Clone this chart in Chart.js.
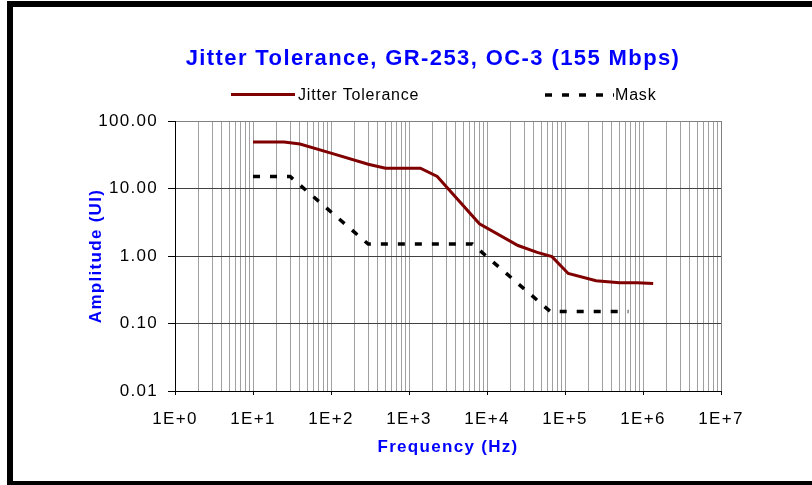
<!DOCTYPE html>
<html>
<head>
<meta charset="utf-8">
<script src="https://cdn.jsdelivr.net/npm/chart.js@4.4.1/dist/chart.umd.min.js"></script>
<style>
  body { margin: 0; background: #fff; }
  #wrap { position: relative; width: 812px; height: 485px; }
</style>
</head>
<body>
<div id="wrap"><canvas id="jt_chart"></canvas></div>
<script>
const CHART_TITLE = 'Jitter Tolerance, GR-253, OC-3 (155 Mbps)';
const SERIES_NAMES = ['Jitter Tolerance', 'Mask'];
const X_TITLE = 'Frequency (Hz)';
const Y_TITLE = 'Amplitude (UI)';

// jitter tolerance measurement (Hz / UI)
const jitterFreq = [10, 25, 40, 100, 300, 500, 1400, 2300, 8000, 25000, 44000, 68000, 110000, 250000, 500000, 840000, 1350000];
const jitterUI = [48.8, 48.8, 45.5, 33.4, 22.9, 20, 20, 15.1, 3.0, 1.43, 1.13, 0.98, 0.55, 0.43, 0.40, 0.40, 0.39];

// GR-253 mask
const maskFreq = [10, 30, 300, 6500, 65000, 650000];
const maskUI = [15, 15, 1.5, 1.5, 0.15, 0.15];

const yTickValues = [0.01, 0.1, 1, 10, 100];

const FONT = "'Liberation Sans', Arial, sans-serif";
const RED = '#800000';
const BLUE = '#0000ff';
const MASK_DASH = [7, 10];

function isDecade(v) {
    const l = Math.log10(v);
    return Math.abs(l - Math.round(l)) < 1e-9;
}

// title, legend and frame are drawn by hand (Excel-like layout)
const decorPlugin = {
    id: 'decor',
    beforeUpdate(chart) { chart.ctx.letterSpacing = '1.3px'; },
    beforeDraw(chart) { chart.ctx.letterSpacing = '1.3px'; },
    afterDraw(chart) {
        const ctx = chart.ctx;
        ctx.save();
        // title
        ctx.letterSpacing = '1.4px';
        ctx.font = 'bold 22px ' + FONT;
        ctx.fillStyle = BLUE;
        ctx.textAlign = 'center';
        ctx.textBaseline = 'alphabetic';
        ctx.fillText(CHART_TITLE, 433, 65);

        // legend
        ctx.letterSpacing = '0.8px';
        ctx.font = '16px ' + FONT;
        ctx.fillStyle = '#000';
        ctx.textAlign = 'left';
        ctx.textBaseline = 'middle';
        ctx.lineCap = 'butt';
        ctx.strokeStyle = RED;
        ctx.lineWidth = 3;
        ctx.beginPath(); ctx.moveTo(231, 94.5); ctx.lineTo(295, 94.5); ctx.stroke();
        ctx.fillText(SERIES_NAMES[0], 298, 96);
        ctx.strokeStyle = '#000';
        ctx.lineWidth = 3.5;
        ctx.setLineDash(MASK_DASH);
        ctx.beginPath(); ctx.moveTo(545, 95); ctx.lineTo(614, 95); ctx.stroke();
        ctx.setLineDash([]);
        ctx.fillText(SERIES_NAMES[1], 615, 96);

        // outer frame
        ctx.fillStyle = '#000';
        ctx.fillRect(7, 1, 812, 6);
        ctx.fillRect(7, 1, 6, 484);
        ctx.fillRect(7, 481, 812, 4);
        ctx.restore();
    }
};

const ctx = document.getElementById('jt_chart');

new Chart(ctx, {
    type: 'line',
    data: {
        datasets: [{
            label: SERIES_NAMES[0],
            data: jitterFreq.map((f, i) => ({ x: f, y: jitterUI[i] })),
            borderColor: RED,
            borderWidth: 3,
            pointRadius: 0,
            tension: 0,
        }, {
            label: SERIES_NAMES[1],
            data: maskFreq.map((f, i) => ({ x: f, y: maskUI[i] })),
            borderColor: '#000',
            borderWidth: 3.5,
            borderDash: MASK_DASH,
            borderCapStyle: 'butt',
            pointRadius: 0,
            tension: 0,
        }]
    },
    options: {
        responsive: true,
        maintainAspectRatio: false,
        animation: false,
        layout: { padding: { top: 121, left: 14, right: 91, bottom: 10 } },
        plugins: {
            legend: { display: false },
            title: { display: false },
            tooltip: { enabled: false }
        },
        scales: {
            x: {
                type: 'logarithmic',
                min: 1,
                max: 1e7,
                afterBuildTicks(scale) {
                    const ticks = [];
                    for (let k = 0; k < 7; k++) {
                        for (let m = 1; m <= 9; m++) ticks.push({ value: m * Math.pow(10, k) });
                    }
                    ticks.push({ value: 1e7 });
                    scale.ticks = ticks;
                },
                afterFit(scale) { scale.height = 84; },
                ticks: {
                    autoSkip: false,
                    maxRotation: 0,
                    padding: 14,
                    color: '#000',
                    font: { family: FONT, size: 17 },
                    callback: (v) => isDecade(v) ? '1E+' + Math.round(Math.log10(v)) : ''
                },
                grid: {
                    color: (c) => c.tick && c.tick.value === 1e7 ? '#808080' : '#a0a0a0',
                    tickColor: (c) => c.tick && isDecade(c.tick.value) ? '#000' : 'rgba(0,0,0,0)',
                    tickLength: 4,
                    lineWidth: 1
                },
                border: { color: '#000', width: 1 },
                title: {
                    display: true,
                    text: X_TITLE,
                    color: BLUE,
                    font: { family: FONT, size: 17, weight: 'bold' },
                    padding: { top: 0, bottom: 17 }
                }
            },
            y: {
                type: 'logarithmic',
                min: 0.01,
                max: 100,
                afterBuildTicks(scale) {
                    scale.ticks = yTickValues.map(v => ({ value: v }));
                },
                afterFit(scale) { scale.width = 161; },
                ticks: {
                    padding: 10,
                    color: '#000',
                    font: { family: FONT, size: 17 },
                    callback: (v) => Number(v).toFixed(2)
                },
                grid: {
                    color: (c) => c.tick && c.tick.value === 100 ? '#808080' : '#404040',
                    tickColor: '#000',
                    tickLength: 7,
                    lineWidth: 1
                },
                border: { color: '#000', width: 1 },
                title: {
                    display: true,
                    text: Y_TITLE,
                    color: BLUE,
                    font: { family: FONT, size: 17, weight: 'bold' },
                    padding: { top: 72, bottom: 0 }
                }
            }
        }
    },
    plugins: [decorPlugin]
});
</script>
</body>
</html>
